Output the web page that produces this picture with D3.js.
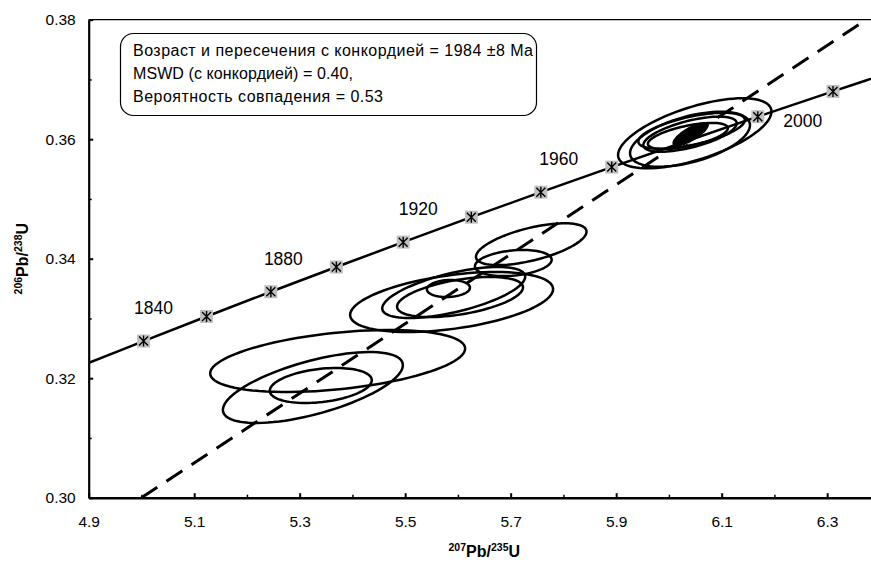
<!DOCTYPE html>
<html>
<head>
<meta charset="utf-8">
<script src="https://cdn.jsdelivr.net/npm/d3@7"></script>
<style>
  html, body { margin: 0; padding: 0; background: #fff; }
  svg { display: block; font-family: "Liberation Sans", Arial, sans-serif; }
</style>
</head>
<body>
<svg id="chart" width="871" height="564"></svg>
<script>
// Axis ticks
const xMajorTicks = [4.9, 5.1, 5.3, 5.5, 5.7, 5.9, 6.1, 6.3];
const xMinorTicks = [5.0, 5.2, 5.4, 5.6, 5.8, 6.0, 6.2];
const yMajorTicks = [0.30, 0.32, 0.34, 0.36, 0.38];
const yMinorTicks = [0.31, 0.33, 0.35, 0.37];

// Concordia points, every 20 Ma (207Pb/235U, 206Pb/238U)
const concordiaAges = [1800, 1820, 1840, 1860, 1880, 1900, 1920, 1940, 1960, 1980, 2000, 2020, 2040];
const concordiaX = [4.8869, 5.0040, 5.1234, 5.2453, 5.3695, 5.4962, 5.6254, 5.7572, 5.8916, 6.0287, 6.1685, 6.3111, 6.4566];
const concordiaY = [0.32210, 0.32621, 0.33033, 0.33447, 0.33861, 0.34277, 0.34695, 0.35113, 0.35533, 0.35954, 0.36377, 0.36800, 0.37225];

// Age labels on the concordia
const labelAges = [1840, 1880, 1920, 1960, 2000];
const labelSide = ["left", "left", "left", "left", "right"];

// Discordia line endpoints
const discordiaX = [5.0, 6.4];
const discordiaY = [0.300, 0.3815];

// Analysis error ellipses: centre, half-widths, error correlation
const ellipseX   = [5.372, 5.325, 5.340, 5.588, 5.592, 5.604, 5.582, 5.705, 5.739, 6.049, 6.040, 6.043, 6.040, 6.036];
const ellipseY   = [0.32288, 0.31844, 0.31878, 0.33275, 0.33434, 0.33359, 0.33501, 0.33928, 0.34243, 0.36099, 0.36000, 0.36141, 0.36084, 0.36054];
const ellipseSX  = [0.2417, 0.1706, 0.0967, 0.1924, 0.1355, 0.1194, 0.0408, 0.0727, 0.1048, 0.1454, 0.1137, 0.1010, 0.0885, 0.0758];
const ellipseSY  = [0.00519, 0.00594, 0.00293, 0.00502, 0.00427, 0.00335, 0.00142, 0.00218, 0.00350, 0.00586, 0.00460, 0.00301, 0.00293, 0.00218];
const ellipseRho = [0.40, 0.63, 0.30, 0.43, 0.62, 0.48, 0.10, 0.25, 0.60, 0.62, 0.51, 0.60, 0.62, 0.60];

// Concordia age ellipse (filled)
const ageEllipse = { x: 6.041, y: 0.36085, sx: 0.0330, sy: 0.00190, rho: 0.78 };

const legendLines = [
  "Возраст и пересечения с конкордией = 1984 ±8 Ma",
  "MSWD (с конкордией) = 0.40,",
  "Вероятность совпадения = 0.53"
];
const legendWidths = [400, 220, 250];

const svg = d3.select("#chart");
svg.append("rect").attr("width", 871).attr("height", 564).attr("fill", "#fff");

const plotLeft = 88.7, plotRight = 879.9, plotTop = 19.7, plotBottom = 497.7;
const x = d3.scaleLinear().domain([4.9, 6.4]).range([plotLeft, plotRight]);
const y = d3.scaleLinear().domain([0.30, 0.38]).range([plotBottom, plotTop]);

svg.append("clipPath").attr("id", "plot-clip")
  .append("rect").attr("x", plotLeft).attr("y", plotTop)
  .attr("width", plotRight - plotLeft).attr("height", plotBottom - plotTop);

const plot = svg.append("g").attr("clip-path", "url(#plot-clip)");

// ellipse outline in data space
function ellipsePoints(cx, cy, sx, sy, rho, n = 90) {
  const pts = [];
  const k = Math.sqrt(1 - rho * rho);
  for (let i = 0; i < n; i++) {
    const t = (i / n) * 2 * Math.PI;
    pts.push([cx + sx * Math.cos(t), cy + sy * (rho * Math.cos(t) + k * Math.sin(t))]);
  }
  return pts;
}
const closedLine = d3.line().x(d => x(d[0])).y(d => y(d[1])).curve(d3.curveLinearClosed);

// Concordia curve
const concordiaPts = concordiaX.map((v, i) => [v, concordiaY[i]]);
plot.append("path")
  .attr("d", d3.line().x(d => x(d[0])).y(d => y(d[1])).curve(d3.curveCatmullRom)(concordiaPts))
  .attr("fill", "none").attr("stroke", "#000").attr("stroke-width", 2.5);

// Discordia
plot.append("line")
  .attr("x1", x(discordiaX[0])).attr("y1", y(discordiaY[0]))
  .attr("x2", x(discordiaX[1])).attr("y2", y(discordiaY[1]))
  .attr("stroke", "#000").attr("stroke-width", 3)
  .attr("stroke-dasharray", "19,11");

// Concordia age markers
const markers = plot.append("g");
concordiaAges.forEach((age, i) => {
  const cx = x(concordiaX[i]), cy = y(concordiaY[i]);
  const g = markers.append("g").attr("transform", `translate(${cx},${cy})`);
  g.append("rect").attr("x", -6.5).attr("y", -6.5).attr("width", 13).attr("height", 13).attr("fill", "#c0c0c0");
  g.append("path").attr("d", "M0,-5.5V5.5M-4.5,-4.5L4.5,4.5M4.5,-4.5L-4.5,4.5")
    .attr("stroke", "#000").attr("stroke-width", 1.4).attr("fill", "none");
});

// Error ellipses
ellipseX.forEach((cx, i) => {
  plot.append("path")
    .attr("d", closedLine(ellipsePoints(cx, ellipseY[i], ellipseSX[i], ellipseSY[i], ellipseRho[i])))
    .attr("fill", "none").attr("stroke", "#000").attr("stroke-width", 2.5)
    .attr("stroke-linejoin", "round");
});
plot.append("path")
  .attr("d", closedLine(ellipsePoints(ageEllipse.x, ageEllipse.y, ageEllipse.sx, ageEllipse.sy, ageEllipse.rho)))
  .attr("fill", "#000").attr("stroke", "#000").attr("stroke-width", 1.5);

// Age labels
labelAges.forEach((age, j) => {
  const i = concordiaAges.indexOf(age);
  const isLeft = labelSide[j] === "left";
  svg.append("text")
    .attr("x", x(concordiaX[i]) + (isLeft ? -53 : 45))
    .attr("y", y(concordiaY[i]) + (isLeft ? -2 : 10))
    .attr("text-anchor", "middle")
    .attr("font-size", 17.5)
    .attr("fill", "#000")
    .text(age);
});

// Plot border (top)
svg.append("line").attr("x1", plotLeft).attr("x2", plotRight).attr("y1", plotTop).attr("y2", plotTop)
  .attr("stroke", "#000").attr("stroke-width", 1.2);

// Axes
const xAxis = svg.append("g").attr("transform", `translate(0,${plotBottom})`)
  .call(d3.axisBottom(x).tickValues(xMajorTicks).tickFormat(d3.format(".1f"))
    .tickSizeInner(-4.5).tickSizeOuter(0).tickPadding(18.5));
xAxis.select(".domain").attr("stroke-width", 2.6);
xAxis.selectAll(".tick line").attr("stroke-width", 2);
xAxis.selectAll("text").attr("font-size", 15.5).attr("font-family", "Liberation Sans, Arial, sans-serif");

const xMinor = svg.append("g").attr("transform", `translate(0,${plotBottom})`)
  .call(d3.axisBottom(x).tickValues(xMinorTicks).tickFormat("").tickSizeInner(-3).tickSizeOuter(0));
xMinor.select(".domain").remove();
xMinor.selectAll(".tick line").attr("stroke-width", 1.5);

const yAxis = svg.append("g").attr("transform", `translate(${plotLeft},0)`)
  .call(d3.axisLeft(y).tickValues(yMajorTicks).tickFormat(d3.format(".2f"))
    .tickSizeInner(-4.5).tickSizeOuter(0).tickPadding(13));
yAxis.select(".domain").attr("stroke-width", 2.2);
yAxis.selectAll(".tick line").attr("stroke-width", 2);
yAxis.selectAll("text").attr("font-size", 15.5).attr("font-family", "Liberation Sans, Arial, sans-serif");

const yMinor = svg.append("g").attr("transform", `translate(${plotLeft},0)`)
  .call(d3.axisLeft(y).tickValues(yMinorTicks).tickFormat("").tickSizeInner(-3).tickSizeOuter(0));
yMinor.select(".domain").remove();
yMinor.selectAll(".tick line").attr("stroke-width", 1.5);

// Axis titles
const xTitle = svg.append("text").attr("x", (plotLeft + plotRight) / 2).attr("y", 557)
  .attr("text-anchor", "middle").attr("font-weight", "bold").attr("font-size", 16);
xTitle.append("tspan").attr("font-size", 10.5).attr("dy", -6).text("207");
xTitle.append("tspan").attr("dy", 6).text("Pb/");
xTitle.append("tspan").attr("font-size", 10.5).attr("dy", -6).text("235");
xTitle.append("tspan").attr("dy", 6).text("U");

const yTitle = svg.append("text")
  .attr("transform", `translate(28,${(plotTop + plotBottom) / 2}) rotate(-90)`)
  .attr("text-anchor", "middle").attr("font-weight", "bold").attr("font-size", 16);
yTitle.append("tspan").attr("font-size", 10.5).attr("dy", -6).text("206");
yTitle.append("tspan").attr("dy", 6).text("Pb/");
yTitle.append("tspan").attr("font-size", 10.5).attr("dy", -6).text("238");
yTitle.append("tspan").attr("dy", 6).text("U");

// Result box
svg.append("rect").attr("x", 120.5).attr("y", 33.5).attr("width", 416).attr("height", 82)
  .attr("rx", 13).attr("ry", 13).attr("fill", "#fff").attr("stroke", "#000").attr("stroke-width", 1.2);
legendLines.forEach((t, i) => {
  svg.append("text").attr("x", 133).attr("y", 56 + i * 23)
    .attr("font-size", 16).attr("fill", "#000")
    .attr("textLength", legendWidths[i]).attr("lengthAdjust", "spacing")
    .text(t);
});
</script>
</body>
</html>
